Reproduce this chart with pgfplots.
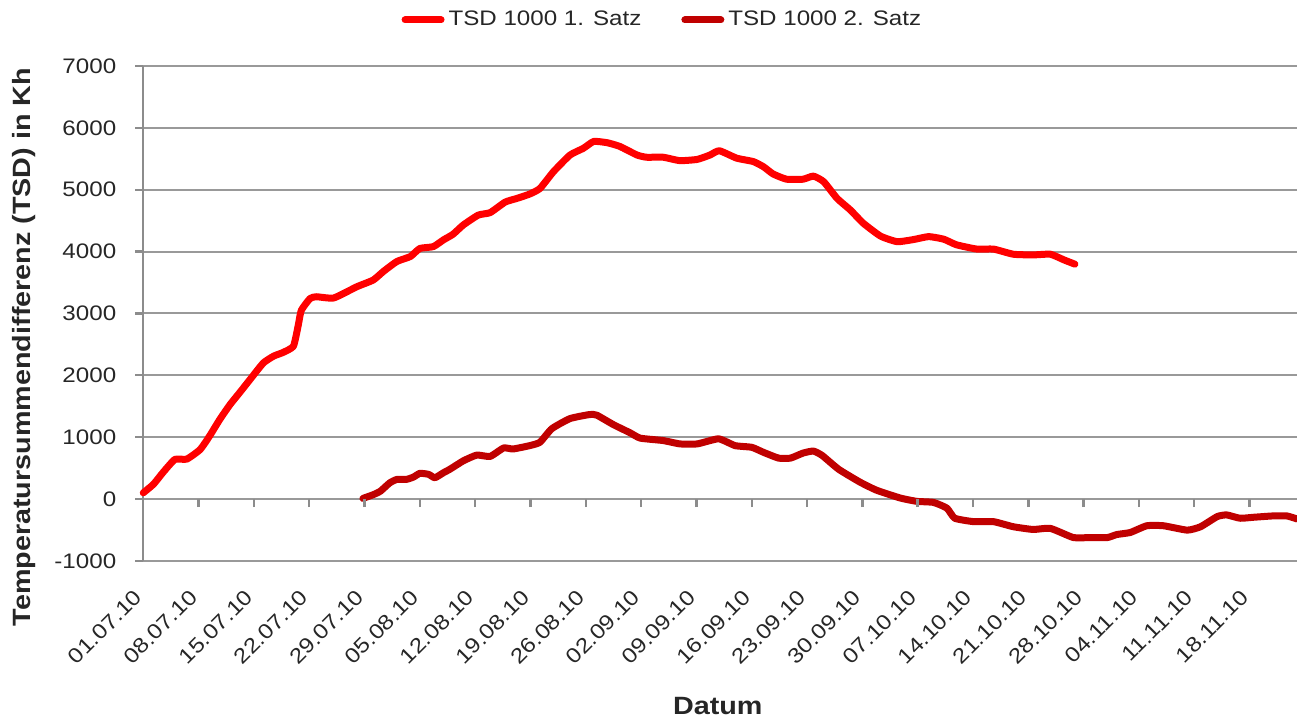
\documentclass[border=0pt]{standalone}
\usepackage{pgfplots}
\pgfplotsset{compat=1.18}
\usepackage{fontspec}
\setmainfont{Liberation Sans}[FakeStretch=1.15]
\definecolor{axgray}{HTML}{8C8C8C}
\definecolor{gridgray}{HTML}{999999}
\definecolor{txt}{HTML}{262626}
\definecolor{satzA}{HTML}{FF0000}
\definecolor{satzB}{HTML}{C00000}

% day index: 0 = 01.07.10
\pgfplotstableread{
x y
0 100
1.3 240
2.5 430
4.0 640
5.5 645
7.2 800
8.4 1020
9.7 1290
11.0 1530
12.2 1720
13.5 1930
15.2 2200
16.5 2310
17.7 2370
19.0 2470
19.6 2800
20.0 3050
21.1 3240
21.9 3270
24.1 3250
27.0 3430
29.1 3540
30.4 3680
32.1 3840
33.8 3920
35.0 4050
36.7 4080
38.0 4190
39.2 4280
40.5 4430
42.4 4590
43.9 4630
45.8 4800
47.3 4860
48.9 4930
50.2 5020
51.9 5290
54.0 5560
55.7 5670
57.0 5780
58.7 5760
60.3 5700
62.5 5560
63.7 5525
65.8 5525
67.9 5470
70.1 5490
71.7 5560
72.9 5630
75.1 5510
77.2 5455
78.5 5370
79.7 5255
81.4 5170
83.5 5170
84.8 5220
86.1 5130
87.8 4860
89.5 4670
91.1 4460
93.3 4250
95.4 4160
97.5 4195
99.4 4242
101.3 4200
102.9 4110
105.5 4040
107.6 4040
110.1 3957
112.6 3946
114.8 3957
116.5 3866
117.9 3796
}\satzeins

\pgfplotstableread{
x y
27.8 10
29.1 70
30.0 126
31.2 262
32.1 317
33.3 317
34.2 355
35.0 415
36.1 399
36.9 344
38.0 426
38.8 481
40.5 617
42.2 710
43.9 689
45.6 825
46.8 809
48.9 863
50.2 918
51.7 1137
54.0 1300
56.5 1366
57.4 1355
59.5 1202
61.6 1071
62.9 984
65.8 945
67.9 891
70.1 891
72.8 973
74.9 863
77.0 836
78.5 754
80.4 661
81.9 661
83.5 743
84.8 775
85.9 705
88.0 481
90.7 273
92.8 142
95.8 16
97.9 -38
100.0 -55
101.7 -148
102.7 -311
105.1 -366
107.6 -366
110.1 -448
112.6 -492
114.8 -475
117.7 -623
119.8 -623
122.0 -623
123.2 -574
124.9 -541
127.0 -432
129.1 -432
132.1 -503
133.8 -448
135.9 -284
137.1 -257
138.8 -311
140.5 -295
143.0 -273
144.7 -273
146.0 -322
}\satzzwei

\begin{document}
\begin{tikzpicture}
\useasboundingbox (-71.65pt,-79.5pt) rectangle (577pt,280.5pt);
\begin{axis}[
  scale only axis, width=577pt, height=247.5pt,
  xmin=0, xmax=146, ymin=-1000, ymax=7000,
  axis y line*=left, axis x line*=bottom,
  x axis line style={draw=none},
  y axis line style={axgray, line width=1.2pt, -},
  xtick={0,7,...,140},
  xticklabels={01.07.10,08.07.10,15.07.10,22.07.10,29.07.10,05.08.10,12.08.10,19.08.10,26.08.10,02.09.10,09.09.10,16.09.10,23.09.10,30.09.10,07.10.10,14.10.10,21.10.10,28.10.10,04.11.10,11.11.10,18.11.10},
  xtick style={draw=none},
  ytick={-1000,0,...,7000},
  yticklabels={-1000,0,1000,2000,3000,4000,5000,6000,7000},
  ytick style={axgray, line width=1.2pt},
  tick align=outside, major tick length=4pt,
  ymajorgrids, grid style={gridgray, line width=1pt},
  ticklabel style={font=\fontsize{10.5}{12}\selectfont, text=txt},
  xticklabel style={rotate=45, anchor=east},
  xticklabel shift=10pt,
  yticklabel shift=6pt,
  ylabel={\textbf{Temperatursummendifferenz (TSD) in Kh}},
  ylabel style={at={(axis description cs:-0.1034,0.432)}, anchor=center, font=\fontsize{12.5}{14}\selectfont, text=txt},
  xlabel={\textbf{Datum}},
  xlabel style={at={(axis description cs:0.498,-0.293)}, anchor=center, font=\fontsize{12.5}{14}\selectfont, text=txt},
  legend columns=2,
  legend style={at={(axis description cs:0.4508,1.093)}, anchor=center, draw=none, fill=none,
    font=\fontsize{10.5}{12}\selectfont, text=txt,
    /tikz/every even column/.append style={column sep=18pt}},
  legend image code/.code={\draw[#1, line cap=round] (0pt,0pt) -- (18pt,0pt);},
  clip=false,
]
\addplot[satzA, line width=3.5pt, line join=round, line cap=round, smooth, tension=0.3] table {\satzeins};
\addlegendentry{TSD 1000 1. Satz}
\addplot[satzB, line width=3.5pt, line join=round, line cap=round, smooth, tension=0.3] table {\satzzwei};
\addlegendentry{TSD 1000 2. Satz}
\end{axis}
\begin{axis}[
  scale only axis, width=577pt, height=247.5pt,
  xmin=0, xmax=146, ymin=-1000, ymax=7000,
  axis x line=middle, axis y line=none,
  axis line style={-, draw=none},
  xtick={0,7,...,140}, xticklabels={},
  ytick=\empty,
  xtick style={axgray, line width=1.2pt},
  tick align=outside, major tick length=4pt,
]
\end{axis}
\end{tikzpicture}
\end{document}
